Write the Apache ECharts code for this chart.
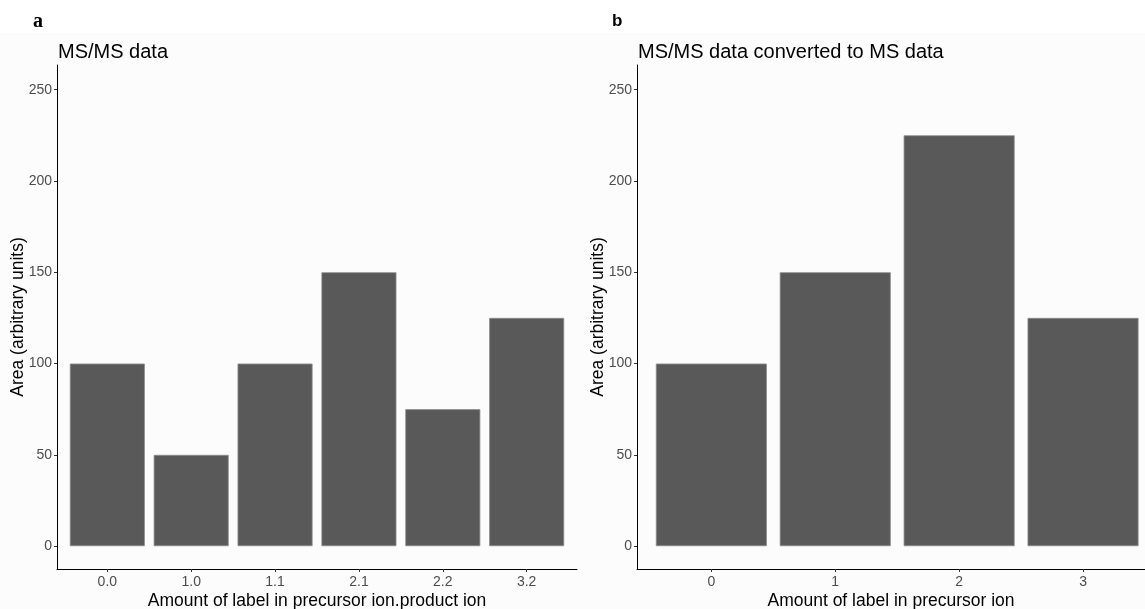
<!DOCTYPE html>
<html>
<head>
<meta charset="utf-8">
<script src="https://cdn.jsdelivr.net/npm/echarts@6/dist/echarts.min.js"></script>
<style>
  html, body { margin: 0; padding: 0; background: #fcfcfc; }
  #chart { width: 1145px; height: 609px; }
</style>
</head>
<body>
<div id="chart"></div>
<script>
// ==================== DATA ====================
const catsA = ['0.0', '1.0', '1.1', '2.1', '2.2', '3.2'];
const valsA = [100, 50, 100, 150, 75, 125];
const catsB = ['0', '1', '2', '3'];
const valsB = [100, 150, 225, 125];
const yTicks = [0, 50, 100, 150, 200, 250];

const font = '"Liberation Sans", Arial, sans-serif';
const tickC = '#4d4d4d', axisC = '#000';
const barC = '#595959', barEdge = '#8c8c8c';

const chart = echarts.init(document.getElementById('chart'));

function xAxisFor(cats, max, gridIndex, name) {
  const pos = cats.map((c, i) => i + 1);
  return {
    type: 'value', gridIndex, min: 0.4, max, name,
    nameLocation: 'middle', nameGap: 23, nameMoveOverlap: false,
    nameTextStyle: { color: '#000', fontSize: 17.5, fontFamily: font },
    axisLine: { onZero: false, lineStyle: { color: axisC, width: 1 } },
    axisTick: { customValues: pos, length: 3, lineStyle: { color: '#333' } },
    axisLabel: {
      customValues: pos, color: tickC, fontSize: 14, fontFamily: font, margin: 6,
      formatter: v => cats[Math.round(v) - 1]
    },
    splitLine: { show: false }
  };
}

function yAxisFor(gridIndex) {
  return {
    type: 'value', gridIndex, min: -12.5, max: 263.5,
    name: 'Area (arbitrary units)', nameLocation: 'middle', nameGap: 30, nameMoveOverlap: false,
    nameTextStyle: { color: '#000', fontSize: 17.5, fontFamily: font },
    axisLine: { show: true, onZero: false, lineStyle: { color: axisC, width: 1 } },
    axisTick: { show: true, customValues: yTicks, length: 3, lineStyle: { color: '#333' } },
    axisLabel: { customValues: yTicks, color: tickC, fontSize: 14, fontFamily: font, margin: 5 },
    splitLine: { show: false }
  };
}

chart.setOption({
  backgroundColor: '#fcfcfc',
  animation: false,
  graphic: [
    { type: 'rect', left: 0, top: 0, shape: { width: 1145, height: 33 }, style: { fill: '#fff' }, z: -10 }
  ],
  title: [
    { text: 'a', left: 28, top: 7, textStyle: { fontSize: 20, fontWeight: 'bold', fontFamily: '"Liberation Serif", serif', color: '#000' } },
    { text: 'MS/MS data', left: 53, top: 37, textStyle: { fontSize: 20, fontWeight: 'normal', fontFamily: font, color: '#000' } },
    { text: 'b', left: 607, top: 8, textStyle: { fontSize: 17, fontWeight: 'bold', fontFamily: font, color: '#000' } },
    { text: 'MS/MS data converted to MS data', left: 633, top: 37, textStyle: { fontSize: 20, fontWeight: 'normal', fontFamily: font, color: '#000' } }
  ],
  grid: [
    { left: 57, top: 65, width: 520, bottom: 40, outerBoundsMode: 'none', containLabel: false },
    { left: 637, top: 65, right: 0, bottom: 40, outerBoundsMode: 'none', containLabel: false }
  ],
  xAxis: [
    xAxisFor(catsA, 6.6, 0, 'Amount of label in precursor ion.product ion'),
    xAxisFor(catsB, 4.5, 1, 'Amount of label in precursor ion')
  ],
  yAxis: [yAxisFor(0), yAxisFor(1)],
  series: [
    {
      type: 'bar', xAxisIndex: 0, yAxisIndex: 0, barWidth: 75,
      data: valsA.map((v, i) => [i + 1, v]),
      itemStyle: { color: barC, borderColor: barEdge, borderWidth: 0.8 }
    },
    {
      type: 'bar', xAxisIndex: 1, yAxisIndex: 1, barWidth: 111,
      data: valsB.map((v, i) => [i + 1, v]),
      itemStyle: { color: barC, borderColor: barEdge, borderWidth: 0.8 }
    }
  ]
});
</script>
</body>
</html>
